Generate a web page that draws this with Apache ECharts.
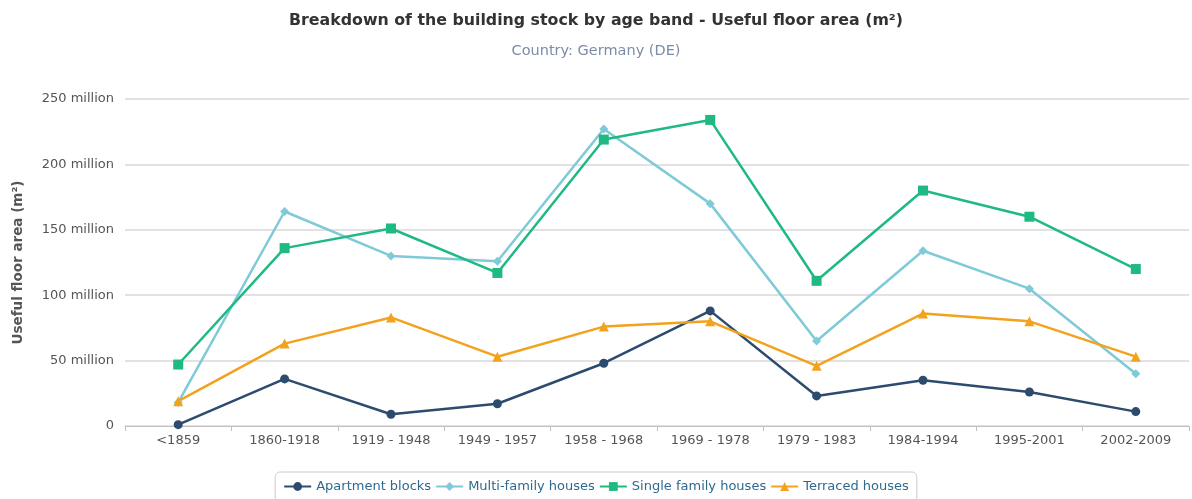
<!DOCTYPE html>
<html lang="en">
<head>
    <meta charset="UTF-8">
    <script type="text/javascript" src="https://cdn.jsdelivr.net/npm/echarts@6/dist/echarts.min.js"></script>
    <title>Building stock</title>
    <style>
        html, body { margin: 0; padding: 0; background: #fff; }
        #chart { width: 1192px; height: 499px; }
    </style>
</head>
<body>
    <div id="chart"></div>
</body>
</html>
<script>
    // age bands
    var ageBands = ['<1859', '1860-1918', '1919 - 1948', '1949 - 1957', '1958 - 1968', '1969 - 1978', '1979 - 1983', '1984-1994', '1995-2001', '2002-2009'];
    // useful floor area, million m²
    var apartmentBlocks = [1, 36, 9, 17, 48, 88, 23, 35, 26, 11];
    var multiFamily = [18, 164, 130, 126, 227, 170, 65, 134, 105, 40];
    var singleFamily = [47, 136, 151, 117, 219, 234, 111, 180, 160, 120];
    var terraced = [19, 63, 83, 53, 76, 80, 46, 86, 80, 53];

    var font = 'DejaVu Sans';

    function mln(arr) {
        return arr.map(function (v) { return v * 1e6; });
    }

    function lineSeries(name, data, color, symbol, size) {
        return {
            name: name,
            type: 'line',
            data: mln(data),
            symbol: symbol,
            symbolSize: size,
            showSymbol: true,
            itemStyle: { color: color },
            lineStyle: { color: color, width: 2.5 }
        };
    }

    var myChart = echarts.init(document.getElementById('chart'));
    myChart.setOption({
        animation: false,
        title: [{
            text: 'Breakdown of the building stock by age band - Useful floor area (m\u00b2)',
            left: 'center',
            top: 8,
            textStyle: { fontFamily: font, fontSize: 15.8, fontWeight: 'bold', color: '#333' }
        }, {
            text: 'Country: Germany (DE)',
            left: 'center',
            top: 39,
            textStyle: { fontFamily: font, fontSize: 14.5, fontWeight: 'normal', color: '#7b8ca8' }
        }],
        legend: {
            bottom: -8,
            left: 'center',
            padding: [8, 8, 14, 8],
            borderColor: '#ccc',
            borderWidth: 1,
            borderRadius: 5,
            itemGap: 4,
            itemWidth: 27,
            itemHeight: 11,
            textStyle: { fontFamily: font, fontSize: 13, color: '#2e6a8f' },
            data: ['Apartment blocks', 'Multi-family houses', 'Single family houses', 'Terraced houses']
        },
        grid: { left: 125, right: 3, top: 99, bottom: 73, containLabel: false },
        xAxis: {
            type: 'category',
            data: ageBands,
            axisLine: { lineStyle: { color: '#c0c0c0' } },
            axisTick: { show: true, alignWithLabel: false, length: 5, lineStyle: { color: '#c0c0c0' } },
            axisLabel: { fontFamily: font, fontSize: 13, color: '#555', margin: 8 }
        },
        yAxis: {
            type: 'value',
            min: 0,
            max: 250e6,
            interval: 50e6,
            name: 'Useful floor area (m\u00b2)',
            nameLocation: 'middle',
            nameGap: 100,
            nameTextStyle: { fontFamily: font, fontSize: 13.5, fontWeight: 'bold', color: '#555' },
            axisLine: { show: false },
            axisTick: { show: false },
            splitLine: { lineStyle: { color: '#d8d8d8', width: 1.5 } },
            axisLabel: {
                fontFamily: font, fontSize: 13, color: '#555', margin: 11,
                formatter: function (v) { return v === 0 ? '0' : (v / 1e6) + ' million'; }
            }
        },
        series: [
            lineSeries('Apartment blocks', apartmentBlocks, '#2c4b6e', 'circle', 9),
            lineSeries('Multi-family houses', multiFamily, '#7ecad8', 'diamond', 9),
            lineSeries('Single family houses', singleFamily, '#1fb982', 'rect', 10),
            lineSeries('Terraced houses', terraced, '#f3a21e', 'triangle', 10)
        ]
    });
</script>
